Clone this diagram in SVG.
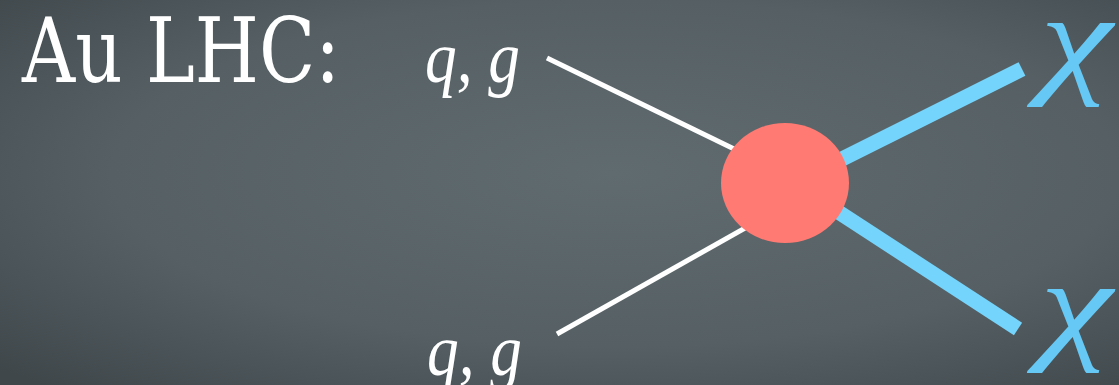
<svg xmlns="http://www.w3.org/2000/svg" width="1119" height="385" viewBox="0 0 1119 385">
<defs>
<radialGradient id="bg" cx="0.55" cy="0.45" r="0.75">
<stop offset="0" stop-color="#606b6f"/>
<stop offset="0.6" stop-color="#566064"/>
<stop offset="1" stop-color="#3f474b"/>
</radialGradient>
<style>
.in{stroke:#ffffff;stroke-width:5;fill:none}
.out{stroke:#74d4fc;stroke-width:15;fill:none}
.lbl{font-family:"Liberation Serif",serif;font-style:italic;fill:#ffffff}
.chi{font-family:"Liberation Serif",serif;font-style:italic;fill:#66c8f5}
</style>
</defs>
<rect width="1119" height="385" fill="url(#bg)"/>
<text x="22" y="82" font-family="'DejaVu Serif', serif" font-size="90" fill="#ffffff" textLength="318" lengthAdjust="spacingAndGlyphs">Au LHC:</text>
<g id="connectors">
<line class="in" x1="547" y1="58" x2="765" y2="164"/>
<line class="in" x1="557" y1="334" x2="770" y2="214"/>
<line class="out" x1="800" y1="180" x2="1022" y2="69"/>
<line class="out" x1="800" y1="187" x2="1018" y2="329"/>
</g>
<g id="vertex"><ellipse cx="785" cy="183" rx="64" ry="60" fill="#ff7a72"/></g>
<g id="q1"><text class="lbl" x="425" y="82" font-size="74" textLength="95" lengthAdjust="spacingAndGlyphs">q, g</text></g>
<g id="q2"><text class="lbl" x="427" y="375" font-size="74" textLength="95" lengthAdjust="spacingAndGlyphs">q, g</text></g>
<g id="chi1"><text class="chi" x="1040" y="80" font-size="125" textLength="72" lengthAdjust="spacingAndGlyphs">χ</text></g>
<g id="chi2"><text class="chi" x="1040" y="346" font-size="125" textLength="72" lengthAdjust="spacingAndGlyphs">χ</text></g>
</svg>
